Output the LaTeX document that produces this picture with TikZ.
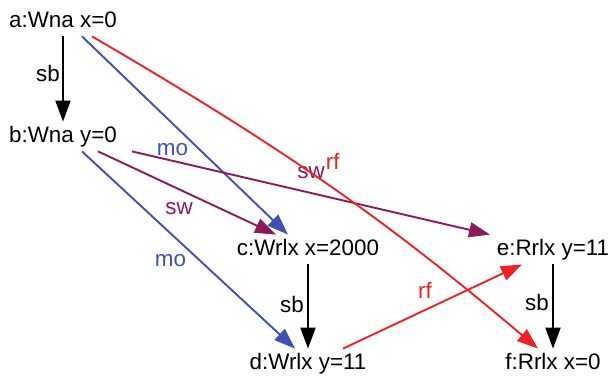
\documentclass[tikz,border=0pt]{standalone}
\usepackage{fontspec}
\setmainfont{Liberation Sans}
\usetikzlibrary{arrows.meta}
\definecolor{rlMo}{HTML}{3F51B0}
\definecolor{rlSw}{HTML}{8B1A5C}
\definecolor{rlRf}{HTML}{EE2222}
\begin{document}
\begin{tikzpicture}[x=0.5pt,y=-0.5pt,
 ev/.style={anchor=base,inner xsep=0pt,inner ysep=2pt,text height=8pt,text depth=2.5pt,font=\fontsize{11.2}{13}\selectfont},
 rel/.style={line width=0.95pt,-{Triangle[length=10.5pt,width=7.5pt]}},
 lbl/.style={inner sep=1pt,font=\fontsize{11.2}{13}\selectfont}]
\useasboundingbox (0,0) rectangle (610,375);
\node[ev](a) at (63,27){a:Wna x=0};\node[ev](b) at (63,142){b:Wna y=0};
\node[ev](c) at (308,255){c:Wrlx x=2000};\node[ev](d) at (308,369){d:Wrlx y=11};
\node[ev](e) at (553,255){e:Rrlx y=11};\node[ev](f) at (553,369){f:Rrlx x=0};
\draw[rel,black] (a.south) -- (b.north) node[lbl,pos=0.43,xshift=-7.5pt]{sb};
\draw[rel,black] (c.south) -- (d.north) node[lbl,pos=0.48,xshift=-8pt]{sb};
\draw[rel,black] (e.south) -- (f.north) node[lbl,pos=0.45,xshift=-8pt]{sb};
\draw[rel,rlMo] ([xshift=9.5pt]a.south) -- ([xshift=-10pt]c.north) node[lbl,pos=0.57,xshift=-13.5pt]{mo};
\draw[rel,rlMo] ([xshift=9.5pt]b.south) -- ([xshift=-6.5pt]d.north) node[lbl,pos=0.556,xshift=-15pt]{mo};
\draw[rel,rlSw] ([xshift=17.5pt]b.south) -- ([xshift=-16pt]c.north) node[lbl,pos=0.455,yshift=-9.5pt]{sw};
\draw[rel,rlSw] ([xshift=34.5pt]b.south) -- ([xshift=-31.5pt]e.north) node[lbl,pos=0.5,yshift=10pt]{sw};
\draw[rel,rlRf] ([xshift=14.5pt]a.south) .. controls (292,153) and (388,222) .. ([xshift=-7.5pt]f.north) node[lbl,pos=0.5,xshift=-0.5pt,yshift=13.5pt]{rf};
\draw[rel,rlRf] ([xshift=17.5pt]d.north) -- ([xshift=-15.5pt]e.south) node[lbl,pos=0.458,yshift=10pt]{rf};
\end{tikzpicture}
\end{document}
